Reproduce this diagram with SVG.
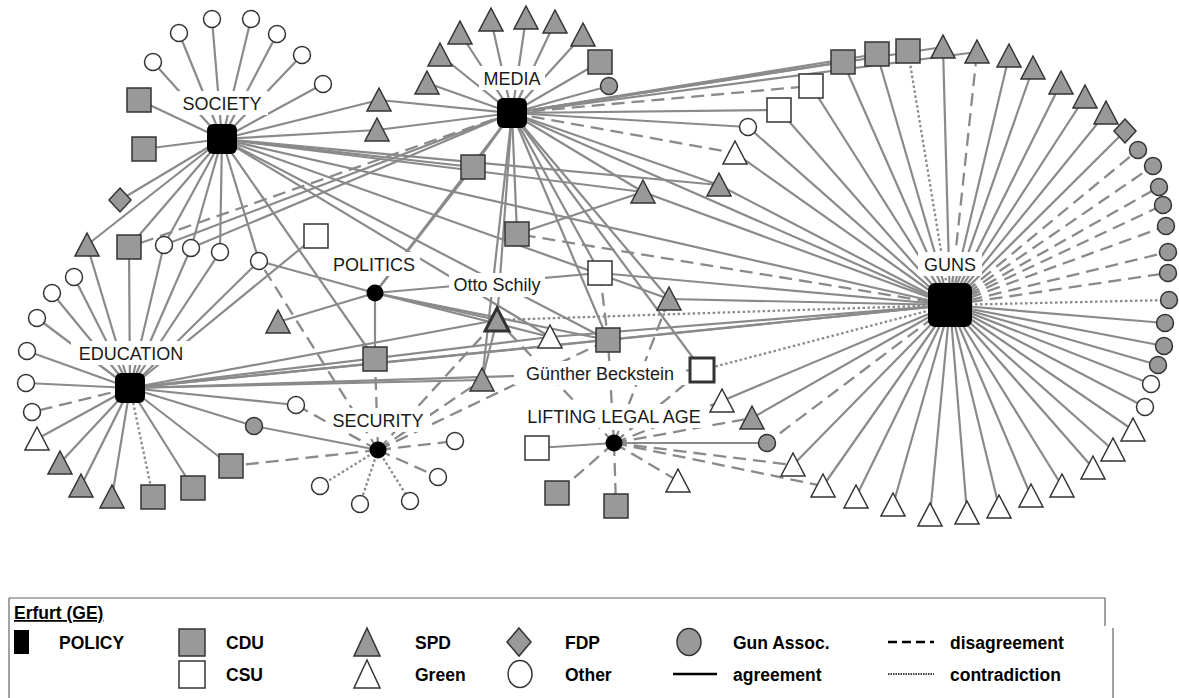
<svg xmlns="http://www.w3.org/2000/svg" xmlns:xlink="http://www.w3.org/1999/xlink" width="1179" height="698" viewBox="0 0 1179 698">
<style>
.a{stroke:#8a8a8a;stroke-width:2.2;fill:none}
.d{stroke:#8a8a8a;stroke-width:2.3;stroke-dasharray:13 7;fill:none}
.c{stroke:#8a8a8a;stroke-width:2.3;stroke-dasharray:2.5 2.5;fill:none}
.gr{fill:#999;stroke:#333;stroke-width:1.5}
.wh{fill:#fff;stroke:#333;stroke-width:1.5}
.pol{fill:#000}
.thk{stroke-width:3}
.lb{font-family:"Liberation Sans",Arial,sans-serif;font-size:18px;fill:#1a1a1a;text-anchor:middle}
.lbg{fill:#fff}
.lg{font-family:"Liberation Sans",Arial,sans-serif;font-size:17.5px;font-weight:bold;fill:#000}
</style>
<defs>
<rect id="sq" x="-12" y="-12" width="24" height="24"/>
<path id="tri" d="M0,-12 L12,11 L-12,11Z"/>
<circle id="ci" r="8.5"/>
<path id="dia" d="M0,-12 L11,0 L0,12 L-11,0Z"/>
</defs>
<rect width="1179" height="698" fill="#fff"/>
<g id="connectors">
<line class="a" x1="222" y1="139" x2="153" y2="62"/>
<line class="a" x1="222" y1="139" x2="179" y2="33"/>
<line class="a" x1="222" y1="139" x2="212" y2="19"/>
<line class="a" x1="222" y1="139" x2="251" y2="19"/>
<line class="a" x1="222" y1="139" x2="277" y2="34"/>
<line class="a" x1="222" y1="139" x2="302" y2="55"/>
<line class="a" x1="222" y1="139" x2="323" y2="84"/>
<line class="a" x1="222" y1="139" x2="139" y2="100"/>
<line class="a" x1="222" y1="139" x2="144" y2="149"/>
<line class="a" x1="222" y1="139" x2="120" y2="200"/>
<line class="a" x1="222" y1="139" x2="87" y2="245"/>
<line class="a" x1="222" y1="139" x2="129" y2="247"/>
<line class="a" x1="222" y1="139" x2="164" y2="245"/>
<line class="a" x1="222" y1="139" x2="191" y2="248"/>
<line class="a" x1="222" y1="139" x2="220" y2="252"/>
<line class="a" x1="222" y1="139" x2="259" y2="261"/>
<line class="a" x1="222" y1="139" x2="379" y2="100"/>
<line class="a" x1="222" y1="139" x2="377" y2="130"/>
<line class="a" x1="222" y1="139" x2="473" y2="167"/>
<line class="a" x1="222" y1="139" x2="643" y2="192"/>
<line class="a" x1="222" y1="139" x2="719" y2="185"/>
<line class="a" x1="222" y1="139" x2="950" y2="305"/>
<line class="a" x1="222" y1="139" x2="375" y2="359"/>
<line class="a" x1="222" y1="139" x2="608" y2="340"/>
<line class="a" x1="222" y1="139" x2="669" y2="299"/>
<line class="a" x1="222" y1="139" x2="550" y2="337"/>
<line class="a" x1="512" y1="113" x2="427" y2="83"/>
<line class="a" x1="512" y1="113" x2="440" y2="55"/>
<line class="a" x1="512" y1="113" x2="460" y2="33"/>
<line class="a" x1="512" y1="113" x2="491" y2="20"/>
<line class="a" x1="512" y1="113" x2="526" y2="18"/>
<line class="a" x1="512" y1="113" x2="555" y2="22"/>
<line class="a" x1="512" y1="113" x2="583" y2="35"/>
<line class="a" x1="512" y1="113" x2="600" y2="62"/>
<line class="a" x1="512" y1="113" x2="609" y2="86"/>
<line class="a" x1="512" y1="113" x2="379" y2="100"/>
<line class="a" x1="512" y1="113" x2="377" y2="130"/>
<line class="a" x1="512" y1="113" x2="473" y2="167"/>
<line class="d" x1="512" y1="113" x2="129" y2="247"/>
<line class="a" x1="512" y1="113" x2="164" y2="245"/>
<line class="a" x1="512" y1="113" x2="191" y2="248"/>
<line class="a" x1="512" y1="113" x2="375" y2="293"/>
<line class="a" x1="512" y1="113" x2="497" y2="320"/>
<line class="a" x1="512" y1="113" x2="482" y2="380"/>
<line class="a" x1="512" y1="113" x2="600" y2="273"/>
<line class="a" x1="512" y1="113" x2="608" y2="340"/>
<line class="a" x1="512" y1="113" x2="702" y2="370"/>
<line class="a" x1="512" y1="113" x2="669" y2="299"/>
<line class="a" x1="512" y1="113" x2="643" y2="192"/>
<line class="a" x1="512" y1="113" x2="719" y2="185"/>
<line class="d" x1="512" y1="113" x2="735" y2="153"/>
<line class="a" x1="512" y1="113" x2="748" y2="127"/>
<line class="a" x1="512" y1="113" x2="779" y2="110"/>
<line class="d" x1="512" y1="113" x2="811" y2="86"/>
<line class="a" x1="512" y1="113" x2="843" y2="62"/>
<line class="a" x1="512" y1="113" x2="877" y2="54"/>
<line class="a" x1="512" y1="113" x2="943" y2="47"/>
<line class="a" x1="512" y1="113" x2="977" y2="52"/>
<line class="a" x1="512" y1="113" x2="950" y2="305"/>
<line class="a" x1="512" y1="113" x2="517" y2="234"/>
<line class="a" x1="950" y1="305" x2="779" y2="110"/>
<line class="a" x1="950" y1="305" x2="811" y2="86"/>
<line class="a" x1="950" y1="305" x2="843" y2="62"/>
<line class="a" x1="950" y1="305" x2="877" y2="54"/>
<line class="c" x1="950" y1="305" x2="908" y2="51"/>
<line class="a" x1="950" y1="305" x2="943" y2="47"/>
<line class="d" x1="950" y1="305" x2="977" y2="52"/>
<line class="a" x1="950" y1="305" x2="1009" y2="56"/>
<line class="a" x1="950" y1="305" x2="1033" y2="68"/>
<line class="a" x1="950" y1="305" x2="1061" y2="83"/>
<line class="a" x1="950" y1="305" x2="1085" y2="97"/>
<line class="a" x1="950" y1="305" x2="1106" y2="113"/>
<line class="a" x1="950" y1="305" x2="1125" y2="131"/>
<line class="d" x1="950" y1="305" x2="1138" y2="150"/>
<line class="d" x1="950" y1="305" x2="1153" y2="166"/>
<line class="d" x1="950" y1="305" x2="1159" y2="187"/>
<line class="d" x1="950" y1="305" x2="1163" y2="205"/>
<line class="d" x1="950" y1="305" x2="1166" y2="226"/>
<line class="d" x1="950" y1="305" x2="1168" y2="252"/>
<line class="d" x1="950" y1="305" x2="1168" y2="273"/>
<line class="c" x1="950" y1="305" x2="1169" y2="300"/>
<line class="a" x1="950" y1="305" x2="1165" y2="323"/>
<line class="a" x1="950" y1="305" x2="1164" y2="346"/>
<line class="a" x1="950" y1="305" x2="1158" y2="365"/>
<line class="a" x1="950" y1="305" x2="1151" y2="384"/>
<line class="a" x1="950" y1="305" x2="1145" y2="407"/>
<line class="a" x1="950" y1="305" x2="1133" y2="430"/>
<line class="a" x1="950" y1="305" x2="1113" y2="450"/>
<line class="a" x1="950" y1="305" x2="1093" y2="468"/>
<line class="a" x1="950" y1="305" x2="1062" y2="486"/>
<line class="a" x1="950" y1="305" x2="1031" y2="496"/>
<line class="a" x1="950" y1="305" x2="999" y2="507"/>
<line class="a" x1="950" y1="305" x2="967" y2="513"/>
<line class="a" x1="950" y1="305" x2="930" y2="515"/>
<line class="a" x1="950" y1="305" x2="893" y2="505"/>
<line class="a" x1="950" y1="305" x2="856" y2="497"/>
<line class="a" x1="950" y1="305" x2="823" y2="486"/>
<line class="a" x1="950" y1="305" x2="793" y2="465"/>
<line class="d" x1="950" y1="305" x2="767" y2="443"/>
<line class="a" x1="950" y1="305" x2="752" y2="418"/>
<line class="a" x1="950" y1="305" x2="722" y2="401"/>
<line class="c" x1="950" y1="305" x2="702" y2="370"/>
<line class="c" x1="950" y1="305" x2="497" y2="320"/>
<line class="d" x1="950" y1="305" x2="517" y2="234"/>
<line class="a" x1="950" y1="305" x2="748" y2="127"/>
<line class="a" x1="950" y1="305" x2="735" y2="153"/>
<line class="a" x1="950" y1="305" x2="719" y2="185"/>
<line class="a" x1="950" y1="305" x2="643" y2="192"/>
<line class="a" x1="950" y1="305" x2="600" y2="273"/>
<line class="a" x1="950" y1="305" x2="669" y2="299"/>
<line class="a" x1="950" y1="305" x2="608" y2="340"/>
<line class="a" x1="950" y1="305" x2="550" y2="337"/>
<line class="a" x1="950" y1="305" x2="130" y2="388"/>
<line class="a" x1="130" y1="388" x2="74" y2="277"/>
<line class="a" x1="130" y1="388" x2="52" y2="293"/>
<line class="a" x1="130" y1="388" x2="37" y2="318"/>
<line class="a" x1="130" y1="388" x2="27" y2="351"/>
<line class="a" x1="130" y1="388" x2="26" y2="383"/>
<line class="d" x1="130" y1="388" x2="32" y2="412"/>
<line class="a" x1="130" y1="388" x2="37" y2="439"/>
<line class="a" x1="130" y1="388" x2="60" y2="463"/>
<line class="a" x1="130" y1="388" x2="81" y2="486"/>
<line class="a" x1="130" y1="388" x2="112" y2="497"/>
<line class="c" x1="130" y1="388" x2="153" y2="497"/>
<line class="a" x1="130" y1="388" x2="193" y2="488"/>
<line class="a" x1="130" y1="388" x2="231" y2="466"/>
<line class="a" x1="130" y1="388" x2="254" y2="426"/>
<line class="a" x1="130" y1="388" x2="296" y2="405"/>
<line class="a" x1="130" y1="388" x2="87" y2="245"/>
<line class="a" x1="130" y1="388" x2="129" y2="247"/>
<line class="a" x1="130" y1="388" x2="164" y2="245"/>
<line class="a" x1="130" y1="388" x2="191" y2="248"/>
<line class="a" x1="130" y1="388" x2="220" y2="252"/>
<line class="a" x1="130" y1="388" x2="259" y2="261"/>
<line class="a" x1="130" y1="388" x2="316" y2="236"/>
<line class="a" x1="130" y1="388" x2="497" y2="320"/>
<line class="a" x1="130" y1="388" x2="550" y2="337"/>
<line class="a" x1="130" y1="388" x2="608" y2="340"/>
<line class="a" x1="130" y1="388" x2="482" y2="380"/>
<line class="a" x1="130" y1="388" x2="702" y2="370"/>
<line class="a" x1="375" y1="293" x2="259" y2="261"/>
<line class="a" x1="375" y1="293" x2="278" y2="322"/>
<line class="a" x1="375" y1="293" x2="375" y2="359"/>
<line class="a" x1="375" y1="293" x2="473" y2="167"/>
<line class="a" x1="375" y1="293" x2="497" y2="320"/>
<line class="a" x1="375" y1="293" x2="550" y2="337"/>
<line class="a" x1="375" y1="293" x2="600" y2="273"/>
<line class="a" x1="375" y1="293" x2="608" y2="340"/>
<line class="a" x1="378" y1="450" x2="254" y2="426"/>
<line class="d" x1="378" y1="450" x2="259" y2="261"/>
<line class="d" x1="378" y1="450" x2="375" y2="359"/>
<line class="d" x1="378" y1="450" x2="296" y2="405"/>
<line class="d" x1="378" y1="450" x2="231" y2="466"/>
<line class="d" x1="378" y1="450" x2="438" y2="477"/>
<line class="d" x1="378" y1="450" x2="455" y2="441"/>
<line class="d" x1="378" y1="450" x2="497" y2="320"/>
<line class="d" x1="378" y1="450" x2="482" y2="380"/>
<line class="d" x1="378" y1="450" x2="608" y2="340"/>
<line class="c" x1="378" y1="450" x2="320" y2="486"/>
<line class="c" x1="378" y1="450" x2="360" y2="504"/>
<line class="c" x1="378" y1="450" x2="410" y2="501"/>
<line class="a" x1="614" y1="443" x2="537" y2="448"/>
<line class="a" x1="614" y1="443" x2="767" y2="443"/>
<line class="d" x1="614" y1="443" x2="557" y2="493"/>
<line class="d" x1="614" y1="443" x2="616" y2="506"/>
<line class="d" x1="614" y1="443" x2="678" y2="481"/>
<line class="d" x1="614" y1="443" x2="752" y2="418"/>
<line class="d" x1="614" y1="443" x2="722" y2="401"/>
<line class="d" x1="614" y1="443" x2="793" y2="465"/>
<line class="d" x1="614" y1="443" x2="823" y2="486"/>
<line class="d" x1="614" y1="443" x2="702" y2="370"/>
<line class="d" x1="614" y1="443" x2="608" y2="340"/>
<line class="d" x1="614" y1="443" x2="669" y2="299"/>
<line class="d" x1="614" y1="443" x2="497" y2="320"/>
<line class="a" x1="497" y1="320" x2="482" y2="380"/>
<line class="a" x1="517" y1="234" x2="643" y2="192"/>
<line class="d" x1="600" y1="273" x2="608" y2="340"/>
</g>
<g id="label-backgrounds" class="lbg">
<rect x="176" y="91" width="92" height="24"/>
<rect x="479" y="66" width="66" height="24"/>
<rect x="918" y="252" width="64" height="24"/>
<rect x="71" y="341" width="120" height="24"/>
<rect x="328" y="252" width="92" height="24"/>
<rect x="326" y="408" width="104" height="24"/>
<rect x="520" y="404" width="190" height="24"/>
<rect x="449" y="273" width="96" height="24"/>
<rect x="514" y="361" width="172" height="24"/>
</g>
<g id="nodes">
<g id="society"><rect x="207" y="124" width="30" height="30" rx="6" class="pol"/><text class="lb" x="222" y="110">SOCIETY</text></g>
<g id="media"><rect x="497" y="98" width="30" height="30" rx="6" class="pol"/><text class="lb" x="512" y="85">MEDIA</text></g>
<g id="guns"><rect x="928" y="283" width="44" height="44" rx="7" class="pol"/><text class="lb" x="950" y="271">GUNS</text></g>
<g id="education"><rect x="115" y="373" width="30" height="30" rx="6" class="pol"/><text class="lb" x="131" y="360">EDUCATION</text></g>
<g id="politics"><circle cx="375" cy="293" r="8.5" class="pol"/><text class="lb" x="374" y="271">POLITICS</text></g>
<g id="security"><circle cx="378" cy="450" r="8.5" class="pol"/><text class="lb" x="378" y="427">SECURITY</text></g>
<g id="lifting"><circle cx="614" cy="443" r="8.5" class="pol"/><text class="lb" x="614" y="423">LIFTING LEGAL AGE</text></g>
<g id="otto-schily"><use href="#tri" x="497" y="320" class="gr thk"/><text class="lb" x="497" y="291">Otto Schily</text></g>
<g id="guenther-beckstein"><use href="#sq" x="702" y="370" class="wh thk"/><text class="lb" x="600" y="380">Günther Beckstein</text></g>
<g id="so1"><use href="#ci" x="153" y="62" class="wh"/></g>
<g id="so2"><use href="#ci" x="179" y="33" class="wh"/></g>
<g id="so3"><use href="#ci" x="212" y="19" class="wh"/></g>
<g id="so4"><use href="#ci" x="251" y="19" class="wh"/></g>
<g id="so5"><use href="#ci" x="277" y="34" class="wh"/></g>
<g id="so6"><use href="#ci" x="302" y="55" class="wh"/></g>
<g id="so7"><use href="#ci" x="323" y="84" class="wh"/></g>
<g id="sc1"><use href="#sq" x="139" y="100" class="gr"/></g>
<g id="sc2"><use href="#sq" x="144" y="149" class="gr"/></g>
<g id="sf1"><use href="#dia" x="120" y="200" class="gr"/></g>
<g id="ss1"><use href="#tri" x="87" y="245" class="gr"/></g>
<g id="sc3"><use href="#sq" x="129" y="247" class="gr"/></g>
<g id="so8"><use href="#ci" x="164" y="245" class="wh"/></g>
<g id="so9"><use href="#ci" x="191" y="248" class="wh"/></g>
<g id="so10"><use href="#ci" x="220" y="252" class="wh"/></g>
<g id="so11"><use href="#ci" x="259" y="261" class="wh"/></g>
<g id="scsu"><use href="#sq" x="316" y="236" class="wh"/></g>
<g id="ms1"><use href="#tri" x="379" y="100" class="gr"/></g>
<g id="ms2"><use href="#tri" x="377" y="130" class="gr"/></g>
<g id="mt1"><use href="#tri" x="427" y="83" class="gr"/></g>
<g id="mt2"><use href="#tri" x="440" y="55" class="gr"/></g>
<g id="mt3"><use href="#tri" x="460" y="33" class="gr"/></g>
<g id="mt4"><use href="#tri" x="491" y="20" class="gr"/></g>
<g id="mt5"><use href="#tri" x="526" y="18" class="gr"/></g>
<g id="mt6"><use href="#tri" x="555" y="22" class="gr"/></g>
<g id="mt7"><use href="#tri" x="583" y="35" class="gr"/></g>
<g id="mc1"><use href="#sq" x="600" y="62" class="gr"/></g>
<g id="mg1"><use href="#ci" x="609" y="86" class="gr"/></g>
<g id="x1"><use href="#sq" x="473" y="167" class="gr"/></g>
<g id="x2"><use href="#sq" x="517" y="234" class="gr"/></g>
<g id="x3"><use href="#tri" x="643" y="192" class="gr"/></g>
<g id="x4"><use href="#tri" x="719" y="185" class="gr"/></g>
<g id="x5"><use href="#tri" x="735" y="153" class="wh"/></g>
<g id="x6"><use href="#ci" x="748" y="127" class="wh"/></g>
<g id="x7"><use href="#sq" x="600" y="273" class="wh"/></g>
<g id="x8"><use href="#tri" x="669" y="299" class="gr"/></g>
<g id="x9"><use href="#tri" x="550" y="337" class="wh"/></g>
<g id="x10"><use href="#sq" x="608" y="340" class="gr"/></g>
<g id="x11"><use href="#tri" x="482" y="380" class="gr"/></g>
<g id="x12"><use href="#sq" x="375" y="359" class="gr"/></g>
<g id="x13"><use href="#tri" x="278" y="322" class="gr"/></g>
<g id="g1"><use href="#sq" x="779" y="110" class="wh"/></g>
<g id="g2"><use href="#sq" x="811" y="86" class="wh"/></g>
<g id="g3"><use href="#sq" x="843" y="62" class="gr"/></g>
<g id="g4"><use href="#sq" x="877" y="54" class="gr"/></g>
<g id="g5"><use href="#sq" x="908" y="51" class="gr"/></g>
<g id="g6"><use href="#tri" x="943" y="47" class="gr"/></g>
<g id="g7"><use href="#tri" x="977" y="52" class="gr"/></g>
<g id="g8"><use href="#tri" x="1009" y="56" class="gr"/></g>
<g id="g9"><use href="#tri" x="1033" y="68" class="gr"/></g>
<g id="g10"><use href="#tri" x="1061" y="83" class="gr"/></g>
<g id="g11"><use href="#tri" x="1085" y="97" class="gr"/></g>
<g id="g12"><use href="#tri" x="1106" y="113" class="gr"/></g>
<g id="g13"><use href="#dia" x="1125" y="131" class="gr"/></g>
<g id="g14"><use href="#ci" x="1138" y="150" class="gr"/></g>
<g id="g15"><use href="#ci" x="1153" y="166" class="gr"/></g>
<g id="g16"><use href="#ci" x="1159" y="187" class="gr"/></g>
<g id="g17"><use href="#ci" x="1163" y="205" class="gr"/></g>
<g id="g18"><use href="#ci" x="1166" y="226" class="gr"/></g>
<g id="g19"><use href="#ci" x="1168" y="252" class="gr"/></g>
<g id="g20"><use href="#ci" x="1168" y="273" class="gr"/></g>
<g id="g21"><use href="#ci" x="1169" y="300" class="gr"/></g>
<g id="g22"><use href="#ci" x="1165" y="323" class="gr"/></g>
<g id="g23"><use href="#ci" x="1164" y="346" class="gr"/></g>
<g id="g24"><use href="#ci" x="1158" y="365" class="gr"/></g>
<g id="g25"><use href="#ci" x="1151" y="384" class="wh"/></g>
<g id="g26"><use href="#ci" x="1145" y="407" class="wh"/></g>
<g id="g27"><use href="#tri" x="1133" y="430" class="wh"/></g>
<g id="g28"><use href="#tri" x="1113" y="450" class="wh"/></g>
<g id="g29"><use href="#tri" x="1093" y="468" class="wh"/></g>
<g id="g30"><use href="#tri" x="1062" y="486" class="wh"/></g>
<g id="g31"><use href="#tri" x="1031" y="496" class="wh"/></g>
<g id="g32"><use href="#tri" x="999" y="507" class="wh"/></g>
<g id="g33"><use href="#tri" x="967" y="513" class="wh"/></g>
<g id="g34"><use href="#tri" x="930" y="515" class="wh"/></g>
<g id="g35"><use href="#tri" x="893" y="505" class="wh"/></g>
<g id="g36"><use href="#tri" x="856" y="497" class="wh"/></g>
<g id="g37"><use href="#tri" x="823" y="486" class="wh"/></g>
<g id="g38"><use href="#tri" x="793" y="465" class="wh"/></g>
<g id="g39"><use href="#ci" x="767" y="443" class="gr"/></g>
<g id="g40"><use href="#tri" x="752" y="418" class="gr"/></g>
<g id="g41"><use href="#tri" x="722" y="401" class="wh"/></g>
<g id="e1"><use href="#ci" x="74" y="277" class="wh"/></g>
<g id="e2"><use href="#ci" x="52" y="293" class="wh"/></g>
<g id="e3"><use href="#ci" x="37" y="318" class="wh"/></g>
<g id="e4"><use href="#ci" x="27" y="351" class="wh"/></g>
<g id="e5"><use href="#ci" x="26" y="383" class="wh"/></g>
<g id="e6"><use href="#ci" x="32" y="412" class="wh"/></g>
<g id="e7"><use href="#tri" x="37" y="439" class="wh"/></g>
<g id="e8"><use href="#tri" x="60" y="463" class="gr"/></g>
<g id="e9"><use href="#tri" x="81" y="486" class="gr"/></g>
<g id="e10"><use href="#tri" x="112" y="497" class="gr"/></g>
<g id="e11"><use href="#sq" x="153" y="497" class="gr"/></g>
<g id="e12"><use href="#sq" x="193" y="488" class="gr"/></g>
<g id="e13"><use href="#sq" x="231" y="466" class="gr"/></g>
<g id="e14"><use href="#ci" x="254" y="426" class="gr"/></g>
<g id="e15"><use href="#ci" x="296" y="405" class="wh"/></g>
<g id="sec1"><use href="#ci" x="320" y="486" class="wh"/></g>
<g id="sec2"><use href="#ci" x="360" y="504" class="wh"/></g>
<g id="sec3"><use href="#ci" x="410" y="501" class="wh"/></g>
<g id="sec4"><use href="#ci" x="438" y="477" class="wh"/></g>
<g id="sec5"><use href="#ci" x="455" y="441" class="wh"/></g>
<g id="l1"><use href="#sq" x="537" y="448" class="wh"/></g>
<g id="l2"><use href="#sq" x="557" y="493" class="gr"/></g>
<g id="l3"><use href="#sq" x="616" y="506" class="gr"/></g>
<g id="l4"><use href="#tri" x="678" y="481" class="wh"/></g>
</g>
<g id="legend">
<path d="M9,598 H1105 V626 M1113,628 V698 M9,598 V698" stroke="#666" stroke-width="1.2" fill="none"/>
<text class="lg" x="14" y="619" text-decoration="underline">Erfurt (GE)</text>
<rect x="14" y="630" width="15" height="24" fill="#000"/>
<text class="lg" x="59" y="649">POLICY</text>
<rect x="179" y="629" width="26" height="27" class="gr"/>
<text class="lg" x="226" y="649">CDU</text>
<rect x="179" y="661" width="26" height="27" class="wh"/>
<text class="lg" x="226" y="681">CSU</text>
<path d="M367,628 L380,656 L354,656Z" class="gr"/>
<text class="lg" x="415" y="649">SPD</text>
<path d="M367,660 L380,688 L354,688Z" class="wh"/>
<text class="lg" x="415" y="681">Green</text>
<path d="M519,628 L531,642 L519,656 L507,642Z" class="gr"/>
<text class="lg" x="565" y="649">FDP</text>
<ellipse cx="520" cy="674" rx="12" ry="13.5" class="wh"/>
<text class="lg" x="565" y="681">Other</text>
<ellipse cx="689" cy="642" rx="12" ry="13.5" class="gr"/>
<text class="lg" x="733" y="649">Gun Assoc.</text>
<line x1="673" y1="674" x2="717" y2="674" stroke="#000" stroke-width="2.5"/>
<text class="lg" x="733" y="681">agreement</text>
<line x1="888" y1="642" x2="934" y2="642" stroke="#000" stroke-width="2.5" stroke-dasharray="9 5"/>
<text class="lg" x="950" y="649">disagreement</text>
<line x1="888" y1="674" x2="934" y2="674" stroke="#000" stroke-width="1.5" stroke-dasharray="1.5 1"/>
<text class="lg" x="950" y="681">contradiction</text>
</g>
</svg>
